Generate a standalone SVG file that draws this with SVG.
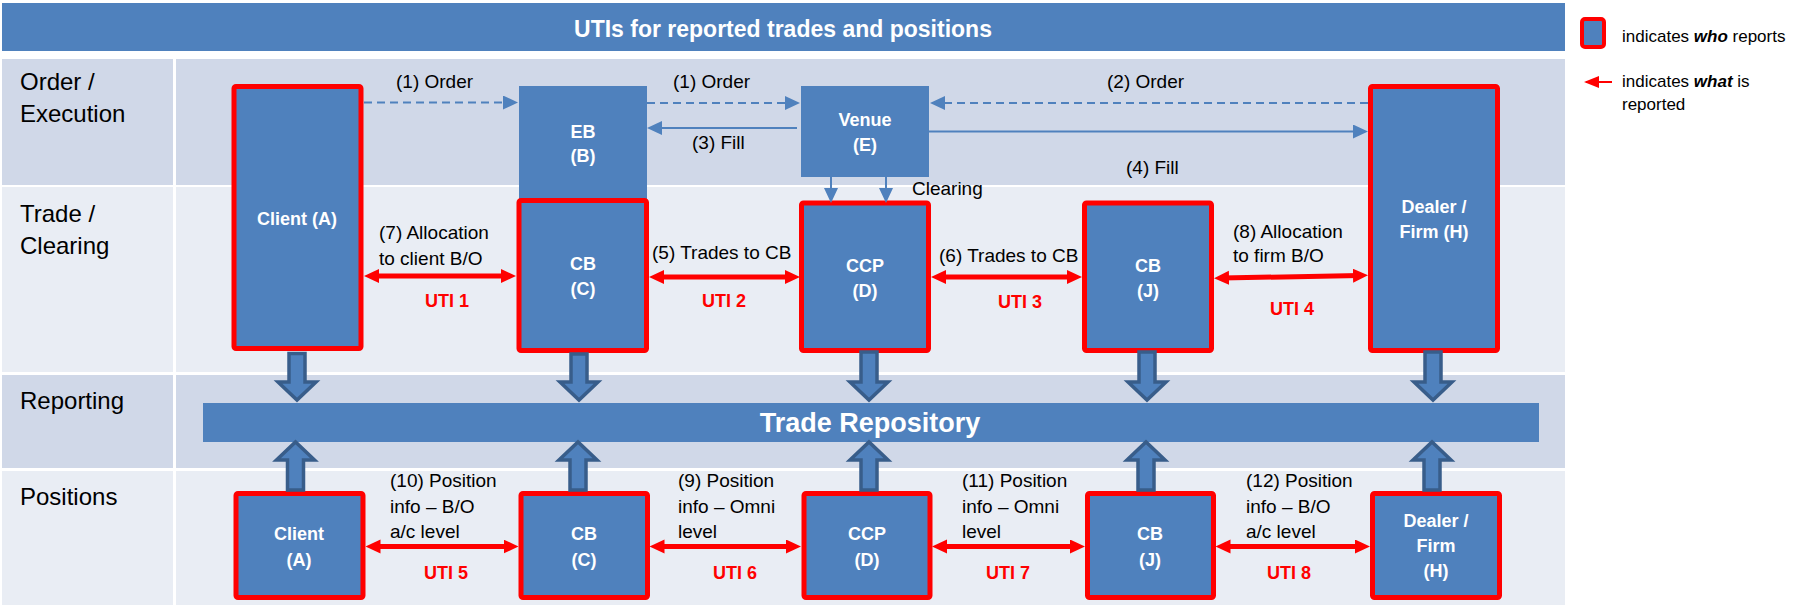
<svg xmlns="http://www.w3.org/2000/svg" width="1811" height="606" viewBox="0 0 1811 606">
<style>
  .t { font-family: "Liberation Sans", Arial, sans-serif; }
  .lane { font-family: "Liberation Sans", Arial, sans-serif; font-size: 24px; fill: #000; }
  .lbl { font-family: "Liberation Sans", Arial, sans-serif; font-size: 19px; fill: #000; }
  .node { font-family: "Liberation Sans", Arial, sans-serif; font-size: 18px; font-weight: bold; fill: #fff; text-anchor: middle; }
  .uti { font-family: "Liberation Sans", Arial, sans-serif; font-size: 18px; font-weight: bold; fill: #ff0000; text-anchor: middle; }
  .box { fill: #4f81bd; }
  .rbox { fill: #4f81bd; stroke: #ff0000; stroke-width: 5; }
  .blue { stroke: #4f81bd; stroke-width: 2; fill: none; }
  .dash { stroke-dasharray: 8 5; }
  .red { stroke: #ff0000; stroke-width: 5; fill: none; }
  .block { fill: #4f81bd; stroke: #385d8a; stroke-width: 3.5; stroke-linejoin: miter; }
  .row1 { fill: #d0d8e8; }
  .row2 { fill: #e9edf4; }
</style>
<defs>
  <marker id="bh" markerUnits="userSpaceOnUse" markerWidth="16" markerHeight="16" refX="12" refY="7" orient="auto-start-reverse">
    <path d="M0,0 L15,7 L0,14 z" fill="#4f81bd"/>
  </marker>
  <marker id="rh" markerUnits="userSpaceOnUse" markerWidth="16" markerHeight="16" refX="7" refY="7" orient="auto-start-reverse">
    <path d="M0,0 L15,7 L0,14 z" fill="#ff0000"/>
  </marker>
  <marker id="rh2" markerUnits="userSpaceOnUse" markerWidth="16" markerHeight="14" refX="13" refY="6" orient="auto-start-reverse">
    <path d="M0,0 L15,6 L0,12 z" fill="#ff0000"/>
  </marker>
</defs>

<rect width="1811" height="606" fill="#fff"/>

<!-- title -->
<g id="title">
  <rect x="2" y="3" width="1563" height="48" class="box"/>
  <text x="783" y="37" class="t" font-size="23" font-weight="bold" fill="#fff" text-anchor="middle">UTIs for reported trades and positions</text>
</g>

<!-- lanes -->
<g id="lanes">
  <rect x="2" y="59" width="171" height="126" class="row1"/>
  <rect x="176" y="59" width="1389" height="126" class="row1"/>
  <rect x="2" y="187" width="171" height="185" class="row2"/>
  <rect x="176" y="187" width="1389" height="185" class="row2"/>
  <rect x="2" y="375" width="171" height="93" class="row1"/>
  <rect x="176" y="375" width="1389" height="93" class="row1"/>
  <rect x="2" y="471" width="171" height="134" class="row2"/>
  <rect x="176" y="471" width="1389" height="134" class="row2"/>
  <text x="20" y="90" class="lane">Order /</text>
  <text x="20" y="122" class="lane">Execution</text>
  <text x="20" y="222" class="lane">Trade /</text>
  <text x="20" y="254" class="lane">Clearing</text>
  <text x="20" y="409" class="lane">Reporting</text>
  <text x="20" y="505" class="lane">Positions</text>
</g>

<!-- Trade repository -->
<g id="tr">
  <rect x="203" y="403" width="1336" height="39" class="box"/>
  <text x="870" y="432" class="t" font-size="27" font-weight="bold" fill="#fff" text-anchor="middle">Trade Repository</text>
</g>

<!-- nodes: order / trade rows -->
<g id="client-a">
  <rect x="234" y="86.5" width="127" height="262" rx="2" class="rbox"/>
  <text x="297" y="225" class="node">Client (A)</text>
</g>
<g id="eb-b">
  <rect x="519" y="86" width="128" height="114" class="box"/>
  <text x="583" y="138" class="node">EB</text>
  <text x="583" y="162" class="node">(B)</text>
</g>
<g id="venue-e">
  <rect x="801" y="86" width="128" height="91" class="box"/>
  <text x="865" y="126" class="node">Venue</text>
  <text x="865" y="151" class="node">(E)</text>
</g>
<g id="cb-c">
  <rect x="519" y="200.5" width="127.5" height="150" rx="2" class="rbox"/>
  <text x="583" y="270" class="node">CB</text>
  <text x="583" y="295" class="node">(C)</text>
</g>
<g id="ccp-d">
  <rect x="801.5" y="203" width="127" height="147.5" rx="2" class="rbox"/>
  <text x="865" y="272" class="node">CCP</text>
  <text x="865" y="297" class="node">(D)</text>
</g>
<g id="cb-j">
  <rect x="1084.5" y="203" width="127" height="147.5" rx="2" class="rbox"/>
  <text x="1148" y="272" class="node">CB</text>
  <text x="1148" y="297" class="node">(J)</text>
</g>
<g id="dealer-h">
  <rect x="1370.5" y="86.5" width="127" height="264" rx="2" class="rbox"/>
  <text x="1434" y="213" class="node">Dealer /</text>
  <text x="1434" y="238" class="node">Firm (H)</text>
</g>

<!-- nodes: positions row -->
<g id="pos-client-a">
  <rect x="236" y="493.5" width="127" height="104" rx="2" class="rbox"/>
  <text x="299" y="540" class="node">Client</text>
  <text x="299" y="566" class="node">(A)</text>
</g>
<g id="pos-cb-c">
  <rect x="521" y="493.5" width="126.5" height="104" rx="2" class="rbox"/>
  <text x="584" y="540" class="node">CB</text>
  <text x="584" y="566" class="node">(C)</text>
</g>
<g id="pos-ccp-d">
  <rect x="804" y="493.5" width="126" height="104" rx="2" class="rbox"/>
  <text x="867" y="540" class="node">CCP</text>
  <text x="867" y="566" class="node">(D)</text>
</g>
<g id="pos-cb-j">
  <rect x="1087.5" y="493.5" width="126" height="104" rx="2" class="rbox"/>
  <text x="1150" y="540" class="node">CB</text>
  <text x="1150" y="566" class="node">(J)</text>
</g>
<g id="pos-dealer-h">
  <rect x="1372.5" y="493.5" width="127" height="104" rx="2" class="rbox"/>
  <text x="1436" y="527" class="node">Dealer /</text>
  <text x="1436" y="552" class="node">Firm</text>
  <text x="1436" y="577" class="node">(H)</text>
</g>

<!-- connectors -->
<g id="connectors">
  <!-- order / execution -->
  <line x1="364" y1="102.5" x2="515" y2="102.5" class="blue dash" marker-end="url(#bh)"/>
  <line x1="647" y1="103" x2="797" y2="103" class="blue dash" marker-end="url(#bh)"/>
  <line x1="797" y1="128" x2="650" y2="128" class="blue" marker-end="url(#bh)"/>
  <line x1="1368" y1="103" x2="933" y2="103" class="blue dash" marker-end="url(#bh)"/>
  <line x1="929" y1="131.5" x2="1365" y2="131.5" class="blue" marker-end="url(#bh)"/>
  <line x1="831" y1="157" x2="831" y2="200" class="blue" marker-end="url(#bh)"/>
  <line x1="886" y1="157" x2="886" y2="200" class="blue" marker-end="url(#bh)"/>

  <!-- trade allocations -->
  <line x1="372" y1="276" x2="508" y2="276" class="red" marker-start="url(#rh)" marker-end="url(#rh)"/>
  <line x1="657" y1="277" x2="792" y2="277" class="red" marker-start="url(#rh)" marker-end="url(#rh)"/>
  <line x1="939" y1="277" x2="1074" y2="277" class="red" marker-start="url(#rh)" marker-end="url(#rh)"/>
  <line x1="1222" y1="278" x2="1360" y2="275.5" class="red" marker-start="url(#rh)" marker-end="url(#rh)"/>

  <!-- positions -->
  <line x1="373.5" y1="546.5" x2="510.5" y2="546.5" class="red" marker-start="url(#rh)" marker-end="url(#rh)"/>
  <line x1="657.5" y1="546.5" x2="793" y2="546.5" class="red" marker-start="url(#rh)" marker-end="url(#rh)"/>
  <line x1="940" y1="546.5" x2="1077" y2="546.5" class="red" marker-start="url(#rh)" marker-end="url(#rh)"/>
  <line x1="1223.5" y1="546.5" x2="1362" y2="546.5" class="red" marker-start="url(#rh)" marker-end="url(#rh)"/>

  <!-- block arrows down to TR -->
  <path class="block" d="M289,353.5 H305 V382 H316 L297,400 L278,382 H289 Z"/>
  <path class="block" d="M571,354 H587 V382 H598 L579,400 L560,382 H571 Z"/>
  <path class="block" d="M861,352 H877 V382 H888 L869,400 L850,382 H861 Z"/>
  <path class="block" d="M1139,352 H1155 V382 H1166 L1147,400 L1128,382 H1139 Z"/>
  <path class="block" d="M1425,352 H1441 V382 H1452 L1433,400 L1414,382 H1425 Z"/>

  <!-- block arrows up to TR -->
  <path class="block" d="M287.5,490 H303.5 V460 H314.5 L295.5,442 L276.5,460 H287.5 Z"/>
  <path class="block" d="M570,490 H586 V460 H597 L578,442 L559,460 H570 Z"/>
  <path class="block" d="M861,490 H877 V460 H888 L869,442 L850,460 H861 Z"/>
  <path class="block" d="M1138,490 H1154 V460 H1165 L1146,442 L1127,460 H1138 Z"/>
  <path class="block" d="M1424,490 H1440 V460 H1451 L1432,442 L1413,460 H1424 Z"/>
</g>

<!-- connector labels -->
<g id="labels">
  <text x="396" y="88" class="lbl">(1) Order</text>
  <text x="673" y="88" class="lbl">(1) Order</text>
  <text x="692" y="149" class="lbl">(3) Fill</text>
  <text x="1107" y="88" class="lbl">(2) Order</text>
  <text x="1126" y="174" class="lbl">(4) Fill</text>
  <text x="912" y="195" class="lbl">Clearing</text>

  <text x="379" y="239" class="lbl">(7) Allocation</text>
  <text x="379" y="265" class="lbl">to client B/O</text>
  <text x="652" y="259" class="lbl">(5) Trades to CB</text>
  <text x="939" y="262" class="lbl">(6) Trades to CB</text>
  <text x="1233" y="238" class="lbl">(8) Allocation</text>
  <text x="1233" y="262" class="lbl">to firm B/O</text>

  <text x="390" y="487" class="lbl">(10) Position</text>
  <text x="390" y="513" class="lbl">info – B/O</text>
  <text x="390" y="538" class="lbl">a/c level</text>
  <text x="678" y="487" class="lbl">(9) Position</text>
  <text x="678" y="513" class="lbl">info – Omni</text>
  <text x="678" y="538" class="lbl">level</text>
  <text x="962" y="487" class="lbl">(11) Position</text>
  <text x="962" y="513" class="lbl">info – Omni</text>
  <text x="962" y="538" class="lbl">level</text>
  <text x="1246" y="487" class="lbl">(12) Position</text>
  <text x="1246" y="513" class="lbl">info – B/O</text>
  <text x="1246" y="538" class="lbl">a/c level</text>

  <text x="447" y="307" class="uti">UTI 1</text>
  <text x="724" y="307" class="uti">UTI 2</text>
  <text x="1020" y="308" class="uti">UTI 3</text>
  <text x="1292" y="315" class="uti">UTI 4</text>
  <text x="446" y="579" class="uti">UTI 5</text>
  <text x="735" y="579" class="uti">UTI 6</text>
  <text x="1008" y="579" class="uti">UTI 7</text>
  <text x="1289" y="579" class="uti">UTI 8</text>
</g>

<!-- legend -->
<g id="legend">
  <rect x="1582" y="19" width="22" height="28" rx="3" fill="#4f81bd" stroke="#ff0000" stroke-width="4"/>
  <text x="1622" y="42" class="t" font-size="17" fill="#000">indicates <tspan font-weight="bold" font-style="italic">who</tspan> reports</text>
  <line x1="1612" y1="82" x2="1586" y2="82" stroke="#ff0000" stroke-width="2" marker-end="url(#rh2)"/>
  <text x="1622" y="87" class="t" font-size="17" fill="#000">indicates <tspan font-weight="bold" font-style="italic">what</tspan> is</text>
  <text x="1622" y="110" class="t" font-size="17" fill="#000">reported</text>
</g>
</svg>
